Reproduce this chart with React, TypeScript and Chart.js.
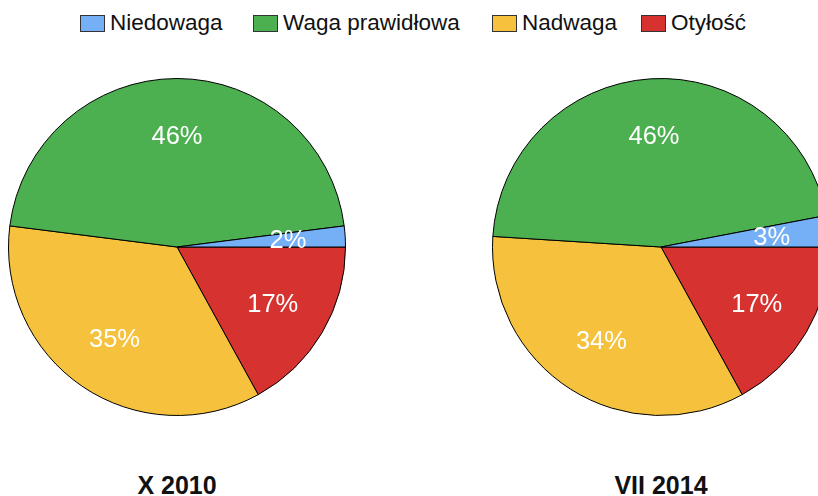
import React, { useEffect, useRef } from "react";
import { Chart, registerables } from "chart.js";

Chart.register(...registerables);

// Legend order (as shown)
const categories = ["Niedowaga", "Waga prawidłowa", "Nadwaga", "Otyłość"];
const colors = ["#75AFF6", "#4CAF50", "#F6C23E", "#D63230"];
const values2010 = [2, 46, 35, 17];
const values2014 = [3, 46, 34, 17];
const titles = ["X 2010", "VII 2014"];

const FONT = "'Liberation Sans', Arial, sans-serif";
const legendX = [80, 253, 492, 641];

const labelPlugin = {
  id: "sliceLabels",
  afterDatasetsDraw(chart: any) {
    const ctx = chart.ctx;
    const meta = chart.getDatasetMeta(0);
    const ds = chart.data.datasets[0];
    ctx.save();
    ctx.fillStyle = "#ffffff";
    ctx.font = `25.5px ${FONT}`;
    ctx.textAlign = "center";
    ctx.textBaseline = "middle";
    meta.data.forEach((arc: any, i: number) => {
      const { x, y, startAngle, endAngle, outerRadius } = arc.getProps(
        ["x", "y", "startAngle", "endAngle", "outerRadius"],
        true
      );
      const mid = (startAngle + endAngle) / 2;
      const r = outerRadius * 0.66;
      ctx.fillText(ds.data[i] + "%", x + Math.cos(mid) * r, y + Math.sin(mid) * r + 1);
    });
    ctx.restore();
  },
};

function Pie({ values, left }: { values: number[]; left: number }) {
  const ref = useRef<HTMLCanvasElement>(null);
  useEffect(() => {
    if (!ref.current) return;
    const data = [...values].reverse();
    const bg = [...colors].reverse();
    const labels = [...categories].reverse();
    const chart = new Chart(ref.current, {
      type: "pie",
      data: {
        labels,
        datasets: [
          {
            data,
            backgroundColor: bg,
            borderColor: "#000000",
            borderWidth: 1,
          },
        ],
      },
      options: {
        animation: false,
        responsive: false,
        rotation: 90,
        layout: { padding: 0 },
        plugins: {
          legend: { display: false },
          tooltip: { enabled: false },
        },
      },
      plugins: [labelPlugin],
    });
    return () => chart.destroy();
  }, []);
  return (
    <canvas
      ref={ref}
      width={338}
      height={338}
      style={{ position: "absolute", left, top: 78, width: 338, height: 338 }}
    />
  );
}

export default function App() {
  return (
    <div
      style={{
        position: "fixed",
        left: 0,
        top: 0,
        width: 818,
        height: 496,
        overflow: "hidden",
        background: "#ffffff",
        fontFamily: FONT,
      }}
    >
      {categories.map((c, i) => (
        <div
          key={c}
          style={{
            position: "absolute",
            left: legendX[i],
            top: 8,
            height: 30,
            display: "flex",
            alignItems: "center",
            whiteSpace: "nowrap",
          }}
        >
          <span
            style={{
              display: "inline-block",
              width: 23,
              height: 15,
              background: colors[i],
              border: "1px solid #333",
              marginRight: 5,
            }}
          />
          <span style={{ fontSize: 22.5, color: "#111" }}>{c}</span>
        </div>
      ))}
      <Pie values={values2010} left={177 - 169} />
      <Pie values={values2014} left={661 - 169} />
      {titles.map((t, i) => (
        <div
          key={t}
          style={{
            position: "absolute",
            left: (i === 0 ? 177 : 661) - 100,
            width: 200,
            top: 470,
            textAlign: "center",
            fontWeight: "bold",
            fontSize: 25,
            lineHeight: "30px",
            color: "#111",
          }}
        >
          {t}
        </div>
      ))}
    </div>
  );
}
